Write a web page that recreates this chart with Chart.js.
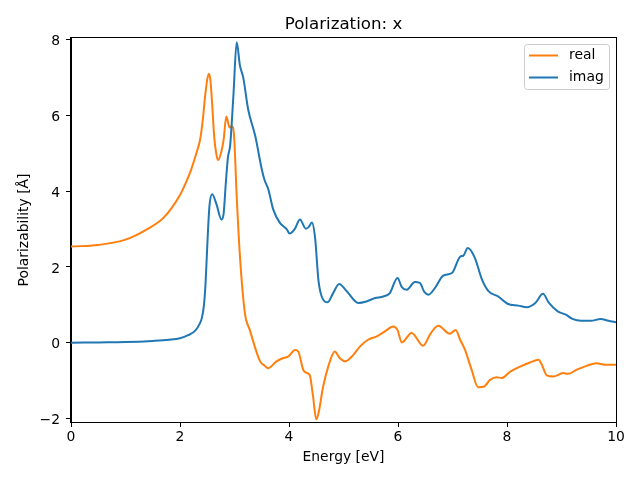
<!DOCTYPE html>
<html>
<head>
<meta charset="utf-8">
<script src="https://cdn.jsdelivr.net/npm/chart.js@4.4.0/dist/chart.umd.min.js"></script>
<style>
html,body{margin:0;padding:0;background:#fff;}
canvas{display:block;}
</style>
</head>
<body>
<canvas id="c" width="640" height="480"></canvas>
<script>
// ---- data ----
const realE = [0.0,0.5,1.0,1.4,1.7,2.0,2.1,2.2,2.3,2.37,2.42,2.46,2.50,2.53,2.56,2.59,2.63,2.67,2.70,2.76,2.80,2.85,2.91,2.95,2.99,3.04,3.10,3.19,3.28,3.47,3.55,3.62,3.77,3.90,3.99,4.11,4.17,4.26,4.30,4.38,4.44,4.50,4.55,4.62,4.72,4.84,4.93,5.03,5.18,5.30,5.45,5.61,5.76,5.91,5.99,6.07,6.25,6.46,6.60,6.74,6.95,7.06,7.14,7.23,7.35,7.47,7.57,7.69,7.81,7.90,8.06,8.24,8.42,8.58,8.64,8.73,8.85,9.03,9.12,9.28,9.46,9.64,9.80,10.0];
const realV = [2.54,2.58,2.72,3.0,3.3,3.9,4.2,4.55,5.0,5.37,5.9,6.5,6.95,7.1,6.9,6.3,5.4,4.95,4.82,5.05,5.35,5.97,5.68,5.72,5.5,3.87,2.28,0.79,0.34,-0.49,-0.6,-0.67,-0.49,-0.40,-0.36,-0.19,-0.23,-0.71,-0.78,-0.85,-1.4,-2.02,-1.8,-1.2,-0.63,-0.23,-0.40,-0.49,-0.32,-0.10,0.08,0.17,0.30,0.43,0.34,0.01,0.26,-0.08,0.25,0.45,0.24,0.34,0.08,-0.19,-0.71,-1.17,-1.16,-0.98,-0.91,-0.93,-0.76,-0.63,-0.52,-0.45,-0.58,-0.86,-0.89,-0.80,-0.82,-0.71,-0.61,-0.54,-0.58,-0.58];

const imagE = [0.0,0.5,1.0,1.5,1.8,2.0,2.15,2.28,2.36,2.40,2.44,2.47,2.50,2.54,2.59,2.67,2.76,2.80,2.84,2.88,2.92,2.98,3.04,3.10,3.16,3.25,3.38,3.50,3.55,3.62,3.71,3.83,3.96,4.01,4.11,4.20,4.31,4.36,4.42,4.48,4.54,4.60,4.71,4.81,4.92,5.06,5.27,5.42,5.58,5.73,5.85,5.99,6.07,6.16,6.31,6.40,6.48,6.56,6.68,6.83,6.99,7.14,7.20,7.28,7.41,7.54,7.66,7.84,8.01,8.21,8.36,8.52,8.66,8.77,8.93,9.08,9.20,9.36,9.54,9.72,9.86,10.0];
const imagV = [0.0,0.01,0.02,0.05,0.08,0.12,0.2,0.32,0.5,0.65,1.0,1.6,2.55,3.6,3.92,3.65,3.25,3.4,4.2,4.9,5.2,6.52,7.93,7.31,7.0,6.16,5.46,4.58,4.3,4.05,3.52,3.17,2.99,2.88,3.01,3.25,3.01,3.05,3.17,2.75,1.65,1.22,1.07,1.31,1.55,1.36,1.05,1.09,1.18,1.22,1.31,1.71,1.47,1.40,1.60,1.58,1.35,1.27,1.45,1.77,1.84,2.27,2.30,2.50,2.24,1.67,1.36,1.22,1.03,0.98,0.94,1.05,1.29,1.05,0.83,0.74,0.63,0.58,0.58,0.63,0.58,0.54];

const xTicks = [0,2,4,6,8,10];
const yTicks = [-2,0,2,4,6,8];
const seriesNames = ['real','imag'];
const titleText = 'Polarization: x';
const xLabel = 'Energy [eV]';
const yLabel = 'Polarizability [Å]';

const ORANGE = '#ff7f0e', BLUE = '#1f77b4';
const FONT = '"DejaVu Sans", sans-serif';

const pts = (xs, ys) => xs.map((x, i) => ({x: x, y: ys[i]}));

const frameAndText = {
  id: 'frameAndText',
  afterDraw(chart) {
    const ctx = chart.ctx, a = chart.chartArea;
    ctx.save();
    ctx.strokeStyle = '#000'; ctx.lineWidth = 1;
    ctx.strokeRect(Math.round(a.left) - 0.5, Math.round(a.top) - 0.5,
                   Math.round(a.right - a.left) + 1, Math.round(a.bottom - a.top) + 1);
    ctx.fillStyle = '#000';
    ctx.textAlign = 'center'; ctx.textBaseline = 'alphabetic';
    ctx.font = '16.67px ' + FONT;
    ctx.fillText(titleText, (a.left + a.right) / 2, 29);
    ctx.font = '13.9px ' + FONT;
    ctx.fillText(xLabel, (a.left + a.right) / 2, 461);
    ctx.save();
    ctx.translate(24, (a.top + a.bottom) / 2);
    ctx.rotate(-Math.PI / 2);
    ctx.textBaseline = 'middle';
    ctx.fillText(yLabel, 0, 0);
    ctx.restore();
    const lx = 524.5, ly = 44.5, lw = 85, lh = 45, r = 3;
    ctx.beginPath();
    ctx.moveTo(lx + r, ly);
    ctx.arcTo(lx + lw, ly, lx + lw, ly + lh, r);
    ctx.arcTo(lx + lw, ly + lh, lx, ly + lh, r);
    ctx.arcTo(lx, ly + lh, lx, ly, r);
    ctx.arcTo(lx, ly, lx + lw, ly, r);
    ctx.closePath();
    ctx.fillStyle = 'rgba(255,255,255,0.8)';
    ctx.fill();
    ctx.strokeStyle = '#cccccc'; ctx.lineWidth = 1;
    ctx.stroke();
    const cols = [ORANGE, BLUE];
    const ys = [55.5, 77.5];
    ctx.lineWidth = 2;
    ctx.textAlign = 'left'; ctx.textBaseline = 'middle';
    ctx.font = '13.9px ' + FONT;
    for (let i = 0; i < 2; i++) {
      ctx.strokeStyle = cols[i];
      ctx.beginPath(); ctx.moveTo(529, ys[i]); ctx.lineTo(558, ys[i]); ctx.stroke();
      ctx.fillStyle = '#000';
      ctx.fillText(seriesNames[i], 569, ys[i]);
    }
    ctx.restore();
  }
};

new Chart(document.getElementById('c'), {
  type: 'line',
  data: {
    datasets: [
      {label: seriesNames[0], data: pts(realE, realV), borderColor: ORANGE, backgroundColor: ORANGE, order: 1},
      {label: seriesNames[1], data: pts(imagE, imagV), borderColor: BLUE, backgroundColor: BLUE, order: 0}
    ]
  },
  options: {
    responsive: false,
    animation: false,
    devicePixelRatio: 1,
    layout: {padding: {top: 38, right: 24, left: 0, bottom: 0}},
    elements: {
      point: {radius: 0},
      line: {borderWidth: 2, cubicInterpolationMode: 'monotone', fill: false}
    },
    plugins: {legend: {display: false}, title: {display: false}, tooltip: {enabled: false}},
    scales: {
      x: {
        type: 'linear', min: 0, max: 10,
        afterBuildTicks: s => { s.ticks = xTicks.map(v => ({value: v})); },
        afterFit: s => { s.height = 58; },
        grid: {drawOnChartArea: false, drawTicks: true, tickLength: 5, color: '#000'},
        border: {display: true, color: '#000', width: 1},
        ticks: {color: '#000', font: {family: FONT, size: 13.9}, padding: 2, maxRotation: 0,
                callback: v => String(v).replace('-', '\u2212')}
      },
      y: {
        type: 'linear', min: -2.09, max: 8.04,
        afterBuildTicks: s => { s.ticks = yTicks.map(v => ({value: v})); },
        afterFit: s => { s.width = 71; },
        grid: {drawOnChartArea: false, drawTicks: true, tickLength: 5, color: '#000'},
        border: {display: true, color: '#000', width: 1},
        ticks: {color: '#000', font: {family: FONT, size: 13.9}, padding: 6, labelOffset: 2,
                callback: v => String(v).replace('-', '\u2212')}
      }
    }
  },
  plugins: [frameAndText]
});
</script>
</body>
</html>
